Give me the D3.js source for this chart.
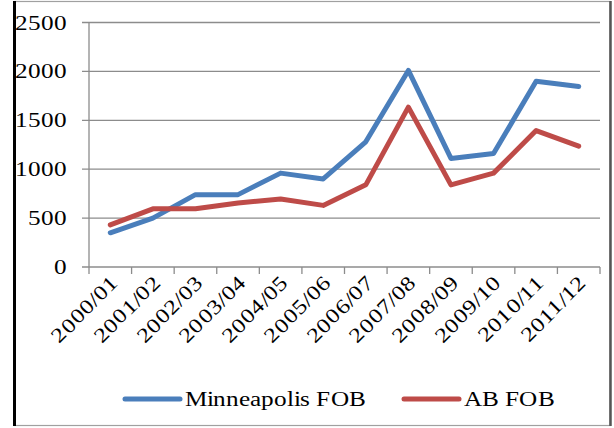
<!DOCTYPE html>
<html><head><meta charset="utf-8">
<script src="https://cdn.jsdelivr.net/npm/d3@7"></script>
<style>
  @font-face { font-family: "ChartSerif"; src: local("Liberation Serif"), local("LiberationSerif"), local("LiberationSerif-Regular"); }
  body { margin: 0; }
</style>
</head>
<body>
<script>
var seasons = ["2000/01", "2001/02", "2002/03", "2003/04", "2004/05", "2005/06",
               "2006/07", "2007/08", "2008/09", "2009/10", "2010/11", "2011/12"];
var minneapolisFOB = [350, 500, 740, 740, 960, 900, 1280, 2010, 1110, 1160, 1900, 1845];
var abFOB = [430, 595, 595, 655, 695, 630, 840, 1635, 840, 960, 1395, 1235];
var yTicks = [0, 500, 1000, 1500, 2000, 2500];
var seriesNames = ["Minneapolis FOB", "AB FOB"];
var seriesColors = ["#4a7ebb", "#be4b48"];

var width = 614, height = 428;
var margin = {left: 89, right: 14, top: 22.5, bottom: 161};
var stretch = 1.2; // text in the picture is widened
var font = "ChartSerif, 'Liberation Serif', serif";

var svg = d3.select("body").append("svg")
    .attr("width", width)
    .attr("height", height)
    .style("font-family", font);

// outer frame
svg.append("rect")
    .attr("x", 15).attr("y", 1.5)
    .attr("width", 595).attr("height", 424)
    .attr("fill", "none").attr("stroke", "#a0a0a0").attr("stroke-width", 1.2);
svg.append("line").attr("x1", 14.5).attr("x2", 14.5).attr("y1", 1).attr("y2", 426)
    .attr("stroke", "#000").attr("stroke-width", 3);
svg.append("line").attr("x1", 610.5).attr("x2", 610.5).attr("y1", 1).attr("y2", 426)
    .attr("stroke", "#555").attr("stroke-width", 2.5);

var x = d3.scaleBand()
    .domain(seasons)
    .range([margin.left, width - margin.right]);

var y = d3.scaleLinear()
    .domain([0, 2500])
    .range([height - margin.bottom, margin.top]);

// gridlines
svg.append("g")
    .selectAll("line")
    .data(yTicks)
    .enter()
    .append("line")
    .attr("x1", margin.left - 7)
    .attr("x2", width - margin.right)
    .attr("y1", function (d) { return y(d); })
    .attr("y2", function (d) { return y(d); })
    .attr("stroke", "#8c8c8c")
    .attr("stroke-width", 1.3);

// y axis line
svg.append("line")
    .attr("x1", margin.left).attr("x2", margin.left)
    .attr("y1", y(2500)).attr("y2", y(0) + 7)
    .attr("stroke", "#8c8c8c").attr("stroke-width", 1.3);

// x ticks
var xTickPos = seasons.map(function (d) { return x(d); }).concat([x.range()[1]]);
svg.append("g")
    .selectAll("line")
    .data(xTickPos.slice(1))
    .enter()
    .append("line")
    .attr("x1", function (d) { return d; })
    .attr("x2", function (d) { return d; })
    .attr("y1", y(0))
    .attr("y2", y(0) + 7)
    .attr("stroke", "#8c8c8c")
    .attr("stroke-width", 1.3);

// y labels
svg.selectAll("text.ylab")
    .data(yTicks)
    .enter()
    .append("text")
    .attr("class", "ylab")
    .attr("transform", function (d) {
        return "translate(67," + (y(d) + 7) + ") scale(" + stretch + ",1)";
    })
    .attr("text-anchor", "end")
    .style("font-family", font)
    .style("font-size", "20.5px")
    .text(function (d) { return d; });

// x labels
svg.selectAll("text.xlab")
    .data(seasons)
    .enter()
    .append("text")
    .attr("class", "xlab")
    .attr("transform", function (d) {
        var cx = x(d) + x.bandwidth() / 2;
        return "translate(" + (cx + 9) + "," + (y(0) + 17) + ") rotate(-45) scale(" + stretch + ",1)";
    })
    .attr("text-anchor", "end")
    .style("font-family", font)
    .style("font-size", "20.5px")
    .text(function (d) { return d; });

// lines
var line = d3.line()
    .x(function (d, i) { return x(seasons[i]) + x.bandwidth() / 2; })
    .y(function (d) { return y(d); });

[minneapolisFOB, abFOB].forEach(function (vals, k) {
    svg.append("path")
        .datum(vals)
        .attr("d", line)
        .attr("fill", "none")
        .attr("stroke", seriesColors[k])
        .attr("stroke-width", 5)
        .attr("stroke-linejoin", "round")
        .attr("stroke-linecap", "round");
});

// legend
var legendX = [125, 404];
svg.selectAll("line.leg")
    .data(seriesNames)
    .enter()
    .append("line")
    .attr("class", "leg")
    .attr("x1", function (d, i) { return legendX[i]; })
    .attr("x2", function (d, i) { return legendX[i] + 55; })
    .attr("y1", 399).attr("y2", 399)
    .attr("stroke", function (d, i) { return seriesColors[i]; })
    .attr("stroke-width", 5)
    .attr("stroke-linecap", "round");

svg.selectAll("text.leg")
    .data(seriesNames)
    .enter()
    .append("text")
    .attr("class", "leg")
    .attr("transform", function (d, i) {
        return "translate(" + (legendX[i] + 60) + ",406) scale(" + stretch + ",1)";
    })
    .style("font-family", font)
    .style("font-size", "20.5px")
    .text(function (d) { return d; });
</script></body></html>
